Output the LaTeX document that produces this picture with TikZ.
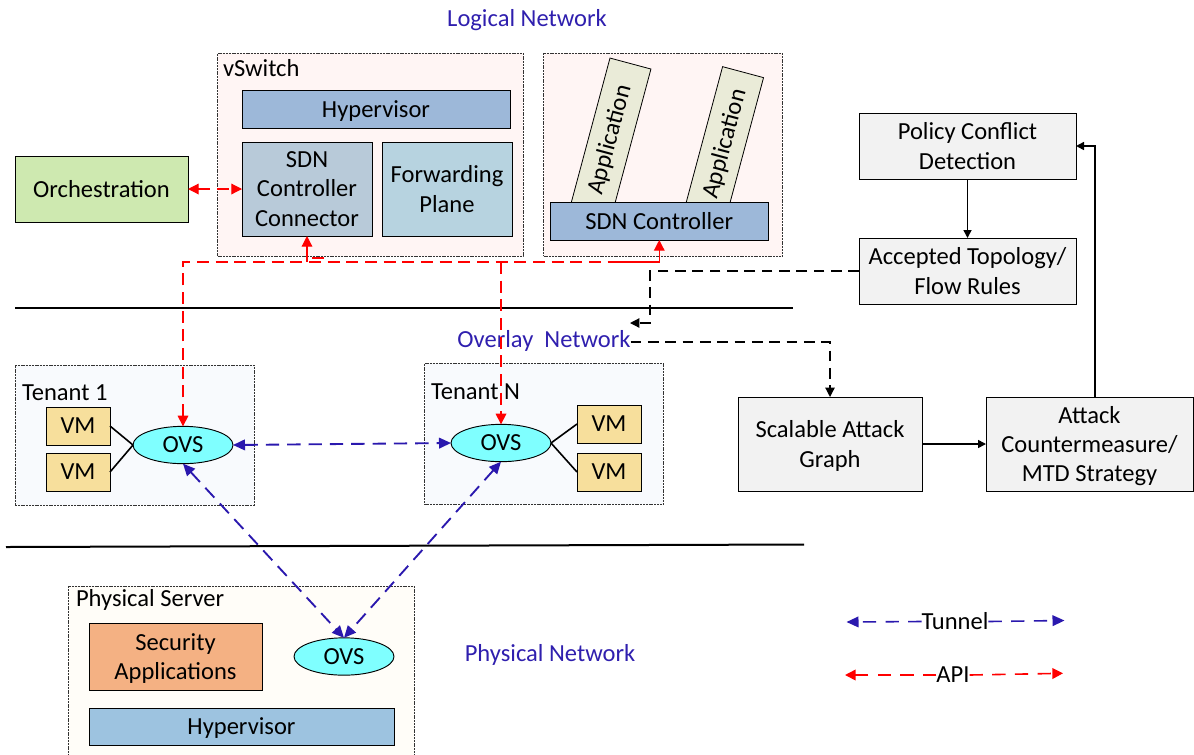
\documentclass[tikz,border=0pt]{standalone}
\usepackage{fontspec}
\setmainfont{Carlito}
\usetikzlibrary{arrows.meta,shapes.geometric,calc}
\definecolor{netblue}{HTML}{2F1FAE}
\definecolor{tunnelblue}{HTML}{2A18AE}
\definecolor{apired}{HTML}{FF0000}
\definecolor{hyper}{HTML}{9DB8D9}
\definecolor{hypertwo}{HTML}{9DC3E0}
\definecolor{connbox}{HTML}{B8CAD9}
\definecolor{fwd}{HTML}{B7D3E0}
\definecolor{orch}{HTML}{CEE9B0}
\definecolor{cont}{HTML}{FFF5F4}
\definecolor{tenant}{HTML}{F8FAFD}
\definecolor{vmc}{HTML}{F7DF9C}
\definecolor{ovsc}{HTML}{7FFFFF}
\definecolor{appc}{HTML}{EAEBD8}
\definecolor{greybox}{HTML}{F2F2F2}
\definecolor{sec}{HTML}{F4B183}
\definecolor{phys}{HTML}{FFFDF8}
\newcommand{\txt}{\fontsize{18.4}{22}\selectfont}
\newcommand{\bx}[7]{\node[#6,minimum width={(#4-#2)*0.75pt},minimum height={(#5-#3)*0.75pt}] (#1) at ({(#2+#4)/2},{(#3+#5)/2}) {#7};}
\tikzset{
  x=0.75pt,y=-0.75pt,
  every node/.style={font=\txt,inner sep=0pt,outer sep=0pt,text=black},
  solidbox/.style={draw=black,line width=0.7pt,rectangle,align=center},
  lower/.style={text depth=0pt},
  lowerb/.style={text depth=-1.5pt},
  contbox/.style={draw=black!80,line width=0.7pt,dash pattern=on 1.5pt off 0.6pt,rectangle},
  appbox/.style={draw=black,line width=0.6pt,fill=appc,rectangle,rotate=75,minimum width=155*0.75pt,minimum height=42.4*0.75pt},
  ovsnode/.style={ellipse,draw=black,line width=0.7pt,fill=ovsc,minimum width=75pt,minimum height=28pt,lowerb},
  nettext/.style={text=netblue},
  api/.style={draw=apired,line width=0.9pt,dash pattern=on 9pt off 5pt},
  tunnel/.style={draw=tunnelblue,line width=1.4pt,dash pattern=on 10pt off 6pt},
  blackdash/.style={draw=black,line width=0.9pt,dash pattern=on 8pt off 5pt},
  arr/.style={line width=1.2pt,draw=black,-{Triangle[length=6pt,width=6pt]}},
  rtip/.style={-{Triangle[length=8pt,width=8pt,fill=apired,color=apired]}},
  rtips/.style={{Triangle[length=8pt,width=8pt,fill=apired,color=apired]}-{Triangle[length=8pt,width=8pt,fill=apired,color=apired]}},
  btips/.style={{Triangle[length=9pt,width=8pt,fill=tunnelblue,color=tunnelblue]}-{Triangle[length=9pt,width=8pt,fill=tunnelblue,color=tunnelblue]}},
  ktip/.style={-{Triangle[length=7pt,width=7pt,fill=black,color=black]}},
  rule/.style={draw=black,line width=1.5pt},
  link/.style={draw=black,line width=1.2pt}
}
\begin{document}
\begin{tikzpicture}
\useasboundingbox (0,0) rectangle (1194,754);
% containers
\bx{vsw}{217.5}{53}{523}{256}{contbox,fill=cont}{}
\bx{ctl}{543.5}{53}{782}{256}{contbox,fill=cont}{}
\bx{ten1}{15}{365}{254}{505}{contbox,fill=tenant}{}
\bx{tenN}{424.5}{363}{663}{504}{contbox,fill=tenant}{}
\draw[contbox,fill=phys] (68.5,756) -- (68.5,586) -- (414,586) -- (414,756);
% rules
\coordinate (r1a) at (15,307.5); \coordinate (r1b) at (793,307.5);
\coordinate (r2a) at (6,547); \coordinate (r2b) at (804,544.5);
\draw[rule] (r1a) -- (r1b);
\draw[rule] (r2a) -- (r2b);
% titles
\node[nettext] (tLogical) at (527,20) {Logical Network};
\node[nettext] (tOverlay) at (544,341) {Overlay\ \ Network};
\node[nettext] (tPhysical) at (550,655) {Physical Network};
\node[anchor=west] (lvs) at (223,68) {vSwitch};
\node[anchor=west] (lt1) at (22,393) {Tenant 1};
\node[anchor=west] (ltN) at (431,392) {Tenant N};
\node[anchor=west] (lps) at (76,600) {Physical Server};
% logical boxes
\bx{orch}{15}{156}{188}{222}{solidbox,fill=orch}{Orchestration}
\bx{hyp}{242}{90.5}{510}{128}{solidbox,fill=hyper,lower}{Hypervisor}
\bx{conn}{242}{142}{372}{236}{solidbox,fill=connbox,text depth=-0.8pt}{SDN\\Controller\\Connector}
\bx{fwd}{382}{142}{512}{236}{solidbox,fill=fwd}{Forwarding\\Plane}
\node[appbox] (app1) at (610.4,138.4) {};
\node[appbox] (app2) at (723,147) {};
\node[rotate=75] (app1t) at (610,140) {Application};
\node[rotate=75] (app2t) at (725,144) {Application};
\bx{ctrl}{550.5}{202.5}{768}{240}{solidbox,fill=hyper,text depth=-0.8pt}{SDN Controller}
% right side
\bx{policy}{859}{113}{1076}{179}{solidbox,fill=greybox}{Policy Conflict\\Detection}
\bx{accept}{859}{238}{1076}{304}{solidbox,fill=greybox}{Accepted Topology/\\Flow Rules}
\bx{attackg}{738}{397}{922}{491}{solidbox,fill=greybox,lower}{Scalable Attack\\Graph}
\bx{counter}{986}{397}{1193}{491}{solidbox,fill=greybox,lower}{Attack\\Countermeasure/\\MTD Strategy}
% tenants
\bx{vma}{46}{407}{110}{445}{solidbox,fill=vmc,lowerb}{VM}
\bx{vmb}{46}{453}{110}{491}{solidbox,fill=vmc,lowerb}{VM}
\bx{vmc1}{577}{405}{641}{443}{solidbox,fill=vmc,lowerb}{VM}
\bx{vmd}{577}{453}{641}{491}{solidbox,fill=vmc,lowerb}{VM}
\node[ovsnode] (ovsa) at (183,445) {OVS};
\node[ovsnode] (ovsb) at (501,443) {OVS};
% physical server
\bx{secap}{89}{623}{262}{690}{solidbox,fill=sec,lower}{Security\\Applications}
\node[ovsnode] (ovsc) at (344,656.5) {OVS};
\bx{hypb}{89}{708}{394}{745}{solidbox,fill=hypertwo,lower}{Hypervisor}
% VM links
\draw[link] (vma.east) -- (ovsa.west);
\draw[link] (vmb.east) -- (ovsa.west);
\draw[link] (vmc1.west) -- (ovsb.east);
\draw[link] (vmd.west) -- (ovsb.east);
% API connectors
\coordinate (bus) at (183,262);
\draw[api,rtips] (orch.east) -- (conn.west);
\draw[api,rtips] (ovsa.north) -- (bus) -| (ctrl.south);
\draw[api,rtip,solid] (conn.south |- bus) -- (conn.south);
\draw[api,solid] (612,262) -- (ctrl.south |- bus) -- ($(ctrl.south)+(0,8)$);
\draw[api,rtip] (ovsb.north |- bus) -- (ovsb.north);
\coordinate (ma) at (312,258); \coordinate (mb) at (324,258);
\draw[api,solid] (ma) -- (mb);
% black dashed
\coordinate (d1) at (650,271);
\coordinate (d2) at (650,323);
\coordinate (d3) at (630,323);
\draw[blackdash,ktip] (accept.west |- d1) -- (d1) -- (d2) -- (d3);
\coordinate (d4) at (tOverlay.east |- 0,342);
\coordinate (d5) at (830,342);
\draw[blackdash,ktip] (d4) -- (d5) -- (d5 |- attackg.north);
% black solid
\draw[arr] (policy.south) -- (accept.north);
\draw[arr] (attackg.east) -- (attackg.east -| counter.west);
\coordinate (up) at (1095,146);
\draw[arr] (up |- counter.north) -- (up) -- (up -| policy.east);
% tunnels
\draw[tunnel,btips] (ovsa.east) -- (ovsb.west);
\draw[tunnel,btips] (ovsa.south) -- (ovsc.north);
\draw[tunnel,btips] (ovsb.south) -- (ovsc.north);
% legend
\node (legT) at (955,621.5) {Tunnel};
\node (legA) at (953,675) {API};
\coordinate (tl) at (846.5,622); \coordinate (tr) at (1064.5,620.5);
\coordinate (al) at (845,675); \coordinate (ar) at (1063,673.3);
\draw[tunnel,line width=1.2pt,-{Triangle[length=9pt,width=8pt,fill=tunnelblue,color=tunnelblue]},dash pattern=on 10pt off 7pt] (legT.west) -- (tl);
\draw[tunnel,line width=1.2pt,-{Triangle[length=9pt,width=8pt,fill=tunnelblue,color=tunnelblue]},dash pattern=on 10pt off 7pt] (legT.east) -- (tr);
\draw[api,line width=1.2pt,rtip,dash pattern=on 10pt off 7pt] (legA.west) -- (al);
\draw[api,line width=1.2pt,rtip,dash pattern=on 10pt off 7pt] (legA.east) -- (ar);
\end{tikzpicture}
\end{document}
